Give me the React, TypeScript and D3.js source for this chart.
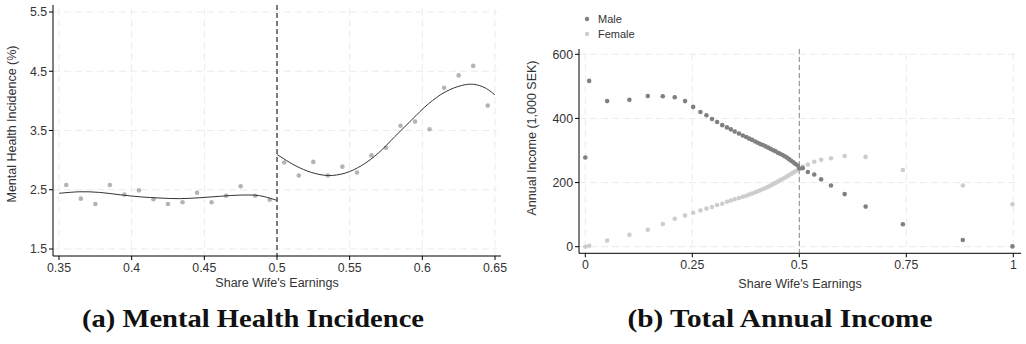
import * as d3 from 'd3'

// Panel (a): mental health incidence by bin of wife's earnings share
const MH_SHARE_LEFT = [0.355, 0.365, 0.375, 0.385, 0.395, 0.405, 0.415, 0.425, 0.435, 0.445, 0.455, 0.465, 0.475, 0.485, 0.495]
const MH_LEFT = [2.58, 2.35, 2.26, 2.58, 2.42, 2.49, 2.34, 2.26, 2.29, 2.45, 2.29, 2.40, 2.56, 2.40, 2.33]
const MH_SHARE_RIGHT = [0.505, 0.515, 0.525, 0.535, 0.545, 0.555, 0.565, 0.575, 0.585, 0.595, 0.605, 0.615, 0.625, 0.635, 0.645]
const MH_RIGHT = [2.96, 2.74, 2.97, 2.74, 2.89, 2.79, 3.08, 3.21, 3.58, 3.65, 3.52, 4.22, 4.43, 4.59, 3.92]

// fitted curves
const FIT_SHARE_LEFT = [0.35, 0.3645, 0.378, 0.392, 0.406, 0.4195, 0.433, 0.447, 0.461, 0.4746, 0.488, 0.5]
const FIT_LEFT = [2.44, 2.466, 2.455, 2.415, 2.38, 2.36, 2.35, 2.365, 2.39, 2.41, 2.40, 2.32]
const FIT_SHARE_RIGHT = [0.5, 0.5124, 0.524, 0.5353, 0.5468, 0.5583, 0.5698, 0.5812, 0.5927, 0.6042, 0.6157, 0.6271, 0.6351, 0.6432, 0.65]
const FIT_RIGHT = [3.096, 2.91, 2.79, 2.74, 2.78, 2.91, 3.12, 3.40, 3.68, 3.95, 4.15, 4.26, 4.28, 4.22, 4.10]

const MH_X_TICKS = [0.35, 0.4, 0.45, 0.5, 0.55, 0.6, 0.65]
const MH_Y_TICKS = [1.5, 2.5, 3.5, 4.5, 5.5]

// Panel (b): annual income
const INC_SHARE = [0, 0.009, 0.051, 0.103, 0.146, 0.181, 0.209, 0.233, 0.252, 0.269, 0.283, 0.296, 0.308, 0.320, 0.331, 0.340, 0.349, 0.359, 0.368, 0.376, 0.383, 0.390, 0.397, 0.403, 0.409, 0.415, 0.421, 0.427, 0.433, 0.439, 0.444, 0.450, 0.455, 0.461, 0.466, 0.471, 0.476, 0.481, 0.486, 0.491, 0.496, 0.500, 0.508, 0.520, 0.535, 0.551, 0.574, 0.606, 0.655, 0.742, 0.882, 0.998]
const INC_MALE = [278, 517, 454, 458, 470, 469, 466, 454, 436, 420, 410, 398, 389, 379, 372, 366, 359, 353, 347, 342, 337, 333, 328, 324, 320, 317, 313, 309, 305, 301, 298, 293, 290, 286, 282, 278, 273, 268, 263, 258, 253, 244, 245, 233, 225, 210, 191, 164, 125, 70, 21, 1]
const INC_FEMALE = [0, 3, 19, 37, 53, 71, 87, 97, 106, 113, 119, 124, 130, 134, 140, 144, 148, 152, 156, 159, 163, 166, 170, 173, 176, 180, 183, 187, 191, 195, 199, 203, 207, 211, 215, 219, 223, 227, 231, 235, 238, 243, 250, 256, 265, 271, 276, 283, 280, 239, 191, 132]

const INC_X_TICKS = [0, 0.25, 0.5, 0.75, 1]
const INC_X_LABELS = ['0', '0.25', '0.5', '0.75', '1']
const INC_Y_TICKS = [0, 200, 400, 600]

const FONT = '"Liberation Sans", Arial, sans-serif'
const GRID = '#ebebeb'
const TEXT = '#333'

function Axes({ x, y, xTicks, xLabels, yTicks, yLabels, left, right, top, bottom }) {
  return (
    <g fontFamily={FONT} fill={TEXT}>
      {yTicks.map(t => (
        <line key={'gy' + t} x1={left} x2={right - 4} y1={y(t)} y2={y(t)} stroke={GRID} strokeDasharray="7,4" />
      ))}
      {xTicks.map(t => (
        <line key={'gx' + t} x1={x(t)} x2={x(t)} y1={top + 4} y2={bottom} stroke={GRID} strokeDasharray="7,4" />
      ))}
      <line x1={left} x2={left} y1={top} y2={bottom} stroke="#000" />
      <line x1={left} x2={right} y1={bottom} y2={bottom} stroke="#000" />
      {yTicks.map((t, i) => (
        <g key={'ty' + t}>
          <line x1={left - 4} x2={left} y1={y(t)} y2={y(t)} stroke="#000" />
          <text x={left - 6} y={y(t) + 4.3} textAnchor="end" fontSize={12.3}>{yLabels[i]}</text>
        </g>
      ))}
      {xTicks.map((t, i) => (
        <g key={'tx' + t}>
          <line x1={x(t)} x2={x(t)} y1={bottom} y2={bottom + 4} stroke="#000" />
          <text x={x(t)} y={bottom + 16} textAnchor="middle" fontSize={12.3}>{xLabels[i]}</text>
        </g>
      ))}
    </g>
  )
}

export default function App() {
  // panel (a)
  const ax = d3.scaleLinear().domain([0.35, 0.65]).range([59, 495])
  const ay = d3.scaleLinear().domain([1.5, 5.5]).range([249, 12])
  const aLine = d3.line<[number, number]>().x(d => ax(d[0])).y(d => ay(d[1])).curve(d3.curveCatmullRom)
  const fitL = FIT_SHARE_LEFT.map((s, i) => [s, FIT_LEFT[i]] as [number, number])
  const fitR = FIT_SHARE_RIGHT.map((s, i) => [s, FIT_RIGHT[i]] as [number, number])

  // panel (b)
  const bx = d3.scaleLinear().domain([0, 1]).range([585.3, 1013.3])
  const by = d3.scaleLinear().domain([0, 600]).range([246.7, 54.3])

  return (
    <svg width={1026} height={344} viewBox="0 0 1026 344"
      style={{ position: 'absolute', left: 0, top: 0, background: '#fff' }}>
      <rect width={1026} height={344} fill="#fff" />

      {/* panel (a) */}
      <Axes x={ax} y={ay} xTicks={MH_X_TICKS} xLabels={MH_X_TICKS.map(String)}
        yTicks={MH_Y_TICKS} yLabels={MH_Y_TICKS.map(d => d.toFixed(1))}
        left={53} right={501} top={5} bottom={256} />
      <line x1={ax(0.5)} x2={ax(0.5)} y1={5} y2={256} stroke="#000" strokeDasharray="5,3" />
      {MH_SHARE_LEFT.map((s, i) => (
        <circle key={'l' + i} cx={ax(s)} cy={ay(MH_LEFT[i])} r={2.3} fill="#b4b4b4" />
      ))}
      {MH_SHARE_RIGHT.map((s, i) => (
        <circle key={'r' + i} cx={ax(s)} cy={ay(MH_RIGHT[i])} r={2.3} fill="#b4b4b4" />
      ))}
      <path d={aLine(fitL) || ''} fill="none" stroke="#333" strokeWidth={1} />
      <path d={aLine(fitR) || ''} fill="none" stroke="#333" strokeWidth={1} />
      <text x={277} y={287} textAnchor="middle" fontFamily={FONT} fontSize={12.5} fill={TEXT}>Share Wife's Earnings</text>
      <text transform="translate(16,124) rotate(-90)" textAnchor="middle" fontFamily={FONT} fontSize={12.5} fill={TEXT}>Mental Health Incidence (%)</text>

      {/* panel (b) */}
      <Axes x={bx} y={by} xTicks={INC_X_TICKS} xLabels={INC_X_LABELS}
        yTicks={INC_Y_TICKS} yLabels={INC_Y_TICKS.map(String)}
        left={579} right={1021} top={49} bottom={253.3} />
      <line x1={bx(0.5)} x2={bx(0.5)} y1={49} y2={253.3} stroke="#888" strokeDasharray="5,3" />
      {INC_SHARE.map((s, i) => (
        <circle key={'f' + i} cx={bx(s)} cy={by(INC_FEMALE[i])} r={2.3} fill="#cdcdcd" />
      ))}
      {INC_SHARE.map((s, i) => (
        <circle key={'m' + i} cx={bx(s)} cy={by(INC_MALE[i])} r={2.3} fill="#808080" />
      ))}
      <text x={800} y={288} textAnchor="middle" fontFamily={FONT} fontSize={12.5} fill={TEXT}>Share Wife's Earnings</text>
      <text transform="translate(536,138) rotate(-90)" textAnchor="middle" fontFamily={FONT} fontSize={12.5} fill={TEXT}>Annual Income (1,000 SEK)</text>

      {/* legend */}
      <circle cx={587} cy={19} r={2.2} fill="#808080" />
      <text x={598} y={23} fontFamily={FONT} fontSize={11} fill={TEXT}>Male</text>
      <circle cx={587} cy={34} r={2.2} fill="#cdcdcd" />
      <text x={598} y={38} fontFamily={FONT} fontSize={11} fill={TEXT}>Female</text>

      {/* captions */}
      <text x={253} y={327} textAnchor="middle" fontFamily='"Liberation Serif", "DejaVu Serif", serif' fontWeight="bold" fontSize={26}
        textLength={342} lengthAdjust="spacingAndGlyphs" fill="#111">(a) Mental Health Incidence</text>
      <text x={780} y={327} textAnchor="middle" fontFamily='"Liberation Serif", "DejaVu Serif", serif' fontWeight="bold" fontSize={26}
        textLength={305} lengthAdjust="spacingAndGlyphs" fill="#111">(b) Total Annual Income</text>
    </svg>
  )
}
